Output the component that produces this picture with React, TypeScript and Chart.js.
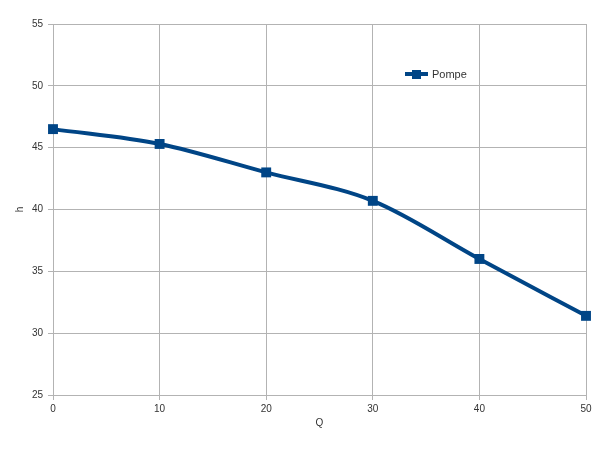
import React, { useEffect, useRef } from "react";
import { Chart, registerables } from "chart.js";

Chart.register(...registerables);

const qValues: number[] = [0, 10, 20, 30, 40, 50];
const hValues: number[] = [46.5, 45.3, 43.0, 40.7, 36.0, 31.4];
const seriesName = "Pompe";
const xTitle = "Q";
const yTitle = "h";

const COLOR = "#004586";
const GRID = "#b3b3b3";
const TEXT = "#333333";
const FONT = "'Liberation Sans', Arial, sans-serif";

const legendPlugin = {
  id: "insideLegend",
  afterDraw(chart: any) {
    const ctx = chart.ctx;
    const x0 = 405;
    const y0 = 74;
    ctx.save();
    ctx.strokeStyle = COLOR;
    ctx.lineWidth = 4;
    ctx.beginPath();
    ctx.moveTo(x0, y0);
    ctx.lineTo(x0 + 23, y0);
    ctx.stroke();
    ctx.fillStyle = COLOR;
    ctx.fillRect(x0 + 7, y0 - 4, 9, 9);
    ctx.fillStyle = TEXT;
    ctx.font = `11px ${FONT}`;
    ctx.textBaseline = "middle";
    ctx.textAlign = "left";
    ctx.fillText(seriesName, x0 + 27, y0 + 1);
    ctx.restore();
  },
};

export default function App() {
  const ref = useRef<HTMLCanvasElement | null>(null);
  useEffect(() => {
    if (!ref.current) return;
    const chart = new Chart(ref.current, {
      type: "line",
      data: {
        datasets: [
          {
            label: seriesName,
            data: qValues.map((q, i) => ({ x: q, y: hValues[i] })),
            borderColor: COLOR,
            backgroundColor: COLOR,
            borderWidth: 4,
            pointStyle: "rect",
            pointRadius: 7,
            pointBackgroundColor: COLOR,
            pointBorderWidth: 0,
            cubicInterpolationMode: "monotone",
            tension: 0.4,
            fill: false,
            clip: false,
          } as any,
        ],
      },
      plugins: [legendPlugin],
      options: {
        animation: false,
        responsive: false,
        maintainAspectRatio: false,
        layout: { padding: { left: 0, right: 20, top: 24, bottom: 0 } },
        plugins: { legend: { display: false }, tooltip: { enabled: false } },
        scales: {
          x: {
            type: "linear",
            min: 0,
            max: 50,
            ticks: { stepSize: 10, color: TEXT, font: { family: FONT, size: 10 }, padding: 3 },
            grid: { color: GRID, tickLength: 5, lineWidth: 1 },
            border: { color: GRID },
            title: { display: true, text: xTitle, color: TEXT, font: { family: FONT, size: 10 }, padding: { top: 4, bottom: 30 } },
            afterFit(scale: any) {
              scale.height = 64;
            },
          },
          y: {
            min: 25,
            max: 55,
            ticks: { stepSize: 5, color: TEXT, font: { family: FONT, size: 10 }, padding: 5 },
            grid: { color: GRID, tickLength: 5, lineWidth: 1 },
            border: { color: GRID },
            title: { display: true, text: yTitle, color: TEXT, font: { family: FONT, size: 10 }, padding: { top: 14, bottom: 4 } },
            afterFit(scale: any) {
              scale.width = 53;
            },
          },
        },
      },
    });
    return () => chart.destroy();
  }, []);
  return (
    <div style={{ position: "fixed", left: 0, top: 0, width: 606, height: 459, background: "#fff" }}>
      <canvas ref={ref} width={606} height={459} style={{ width: 606, height: 459 }} />
    </div>
  );
}
